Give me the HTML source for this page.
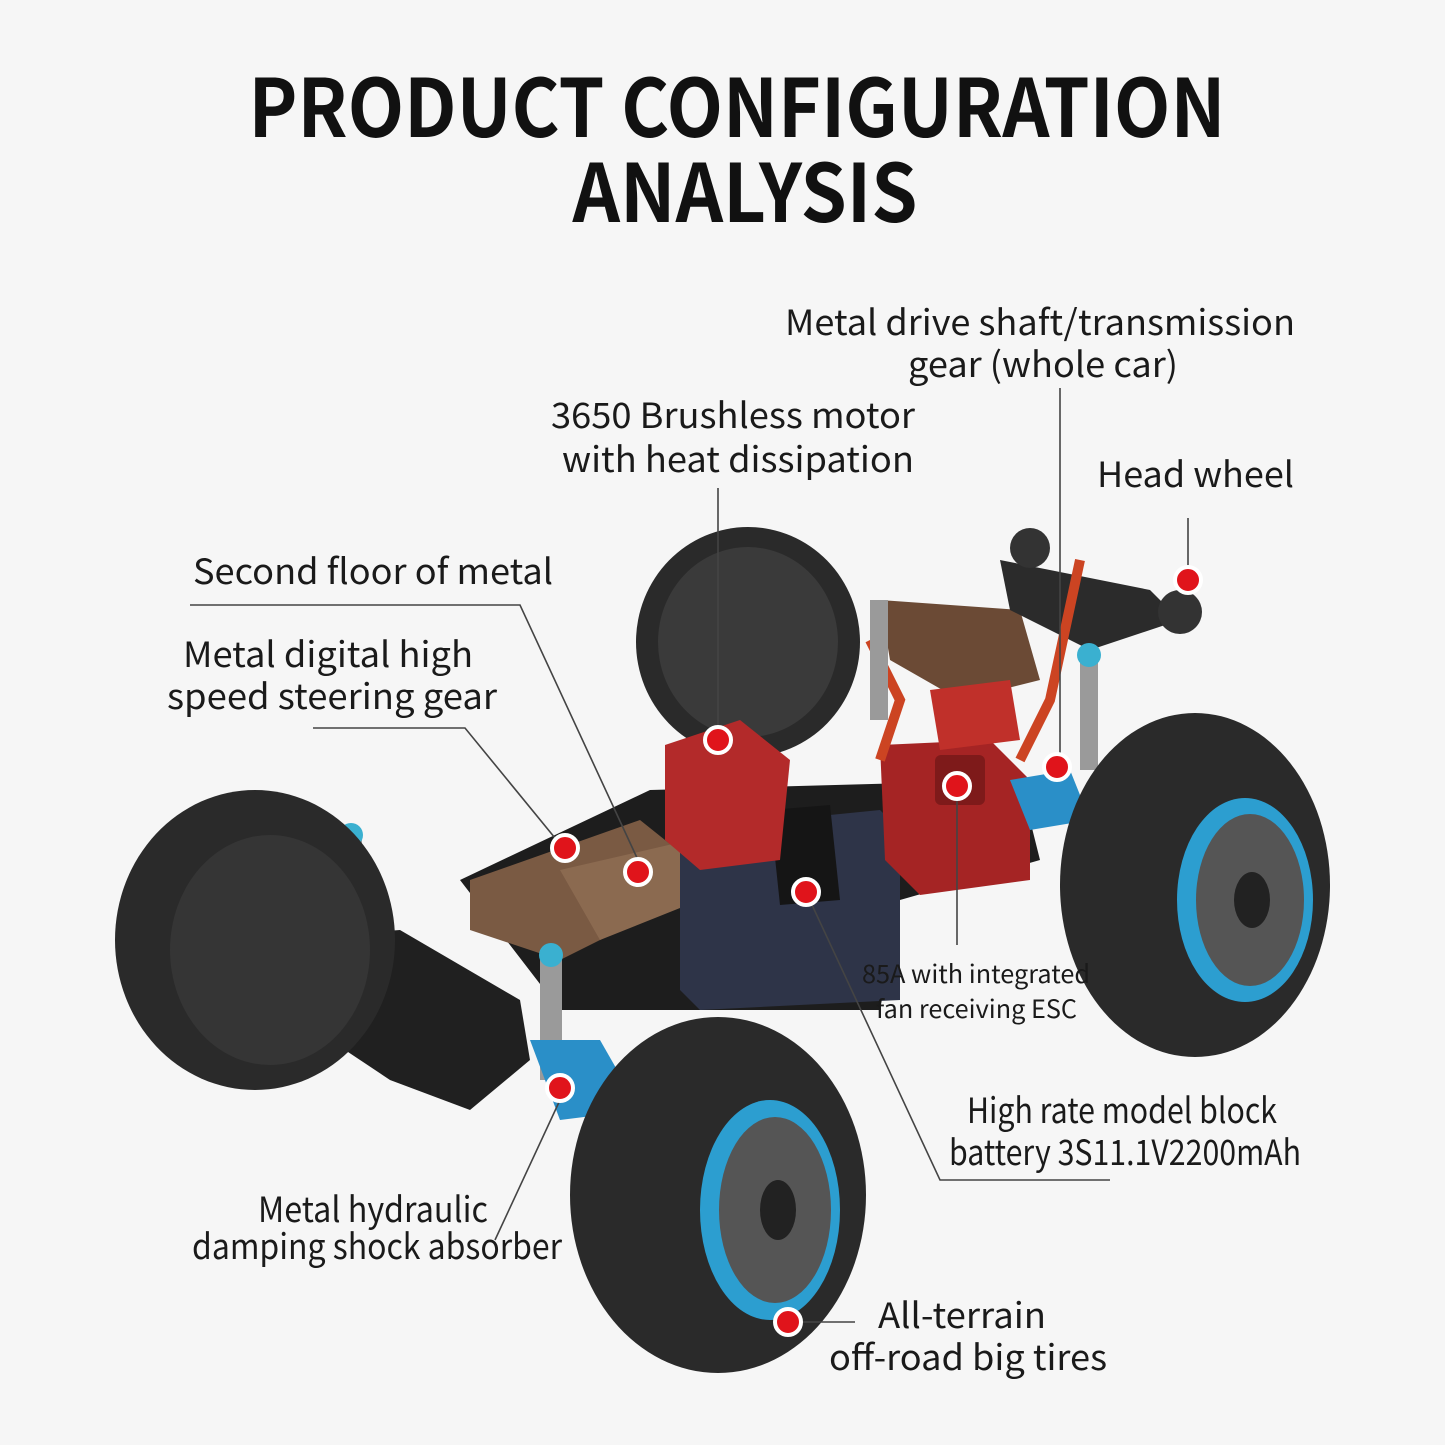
<!DOCTYPE html>
<html><head><meta charset="utf-8"><style>
html,body{margin:0;padding:0;background:#f6f6f6}
svg{display:block}
text{font-family:"Noto Sans CJK SC","Liberation Sans",sans-serif;fill:#1a1a1a}
</style></head><body>
<svg width="1445" height="1445" viewBox="0 0 1445 1445" xmlns="http://www.w3.org/2000/svg">
<rect width="1445" height="1445" fill="#f6f6f6"/>
<text x="737" y="137" text-anchor="middle" font-size="80" font-weight="bold" textLength="977" lengthAdjust="spacingAndGlyphs" style="fill:#111">PRODUCT CONFIGURATION</text>
<text x="745" y="222" text-anchor="middle" font-size="80" font-weight="bold" textLength="345" lengthAdjust="spacingAndGlyphs" style="fill:#111">ANALYSIS</text>

<!-- car -->
<g>
 <!-- rear left tire -->
 <ellipse cx="748" cy="642" rx="112" ry="115" fill="#2a2a2a"/>
 <ellipse cx="748" cy="642" rx="90" ry="95" fill="#3a3a3a"/>
 <!-- chassis back / bronze -->
 <polygon points="880,600 1020,610 1040,680 960,700 890,660" fill="#6b4a35"/>
 <polygon points="1000,560 1150,590 1180,620 1090,650 1010,610" fill="#2b2b2b"/>
 <circle cx="1180" cy="612" r="22" fill="#333"/>
 <circle cx="1030" cy="548" r="20" fill="#333"/>
 <!-- main chassis tub -->
 <polygon points="460,880 650,790 1020,780 1040,860 900,900 880,1010 700,1010 560,1010" fill="#1d1d1d"/>
 <!-- bronze plate front -->
 <polygon points="470,880 640,820 690,860 640,920 560,960 470,930" fill="#7a5a43"/>
 <polygon points="560,870 690,840 700,900 600,940" fill="#8b6a50"/>
 <!-- battery -->
 <polygon points="680,830 880,810 900,830 900,1000 700,1010 680,990" fill="#2e3448"/>
 <polygon points="770,810 830,805 840,900 780,905" fill="#151515"/>
 <!-- motor -->
 <polygon points="665,745 740,720 790,760 780,860 700,870 665,840" fill="#b32a2a"/>
 <!-- ESC -->
 <polygon points="880,745 990,740 1030,780 1030,880 920,895 885,860" fill="#a52424"/>
 <rect x="935" y="755" width="50" height="50" rx="6" fill="#7e1a1a"/>
 <polygon points="930,690 1010,680 1020,740 940,750" fill="#c0302a"/>
 <!-- wires -->
 <path d="M870 640 L900 700 L880 760" stroke="#c42" stroke-width="10" fill="none"/>
 <path d="M1080 560 L1050 700 L1020 760" stroke="#c42" stroke-width="10" fill="none"/>
 <!-- shocks -->
 <rect x="870" y="600" width="18" height="120" fill="#9a9a9a"/>
 <rect x="1080" y="650" width="18" height="120" fill="#9a9a9a"/>
 <rect x="340" y="830" width="22" height="130" fill="#9a9a9a"/>
 <rect x="540" y="950" width="22" height="130" fill="#9a9a9a"/>
 <circle cx="351" cy="835" r="12" fill="#3ab0d0"/>
 <circle cx="551" cy="955" r="12" fill="#3ab0d0"/>
 <circle cx="1089" cy="655" r="12" fill="#3ab0d0"/>
 <!-- blue arms -->
 <polygon points="530,1040 600,1040 640,1110 560,1120" fill="#2a8fc8"/>
 <polygon points="1010,780 1070,770 1090,820 1030,830" fill="#2a8fc8"/>
 <!-- front bumper -->
 <polygon points="260,940 400,930 520,1000 530,1060 470,1110 390,1080 270,1000" fill="#202020"/>
 <!-- front left tire -->
 <ellipse cx="255" cy="940" rx="140" ry="150" fill="#2a2a2a"/>
 <ellipse cx="270" cy="950" rx="100" ry="115" fill="#353535"/>
 <!-- rear right tire -->
 <ellipse cx="1195" cy="885" rx="135" ry="172" fill="#2a2a2a"/>
 <ellipse cx="1245" cy="900" rx="68" ry="102" fill="#2c9ed0"/>
 <ellipse cx="1250" cy="900" rx="54" ry="86" fill="#555"/>
 <ellipse cx="1252" cy="900" rx="18" ry="28" fill="#222"/>
 <!-- front right tire -->
 <ellipse cx="718" cy="1195" rx="148" ry="178" fill="#2a2a2a"/>
 <ellipse cx="770" cy="1210" rx="70" ry="110" fill="#2c9ed0"/>
 <ellipse cx="775" cy="1210" rx="56" ry="93" fill="#555"/>
 <ellipse cx="778" cy="1210" rx="18" ry="30" fill="#222"/>
</g>

<!-- leader lines -->
<g stroke="#444" stroke-width="1.6" fill="none">
 <path d="M1188 518 V568"/>
 <path d="M1060 388 V755"/>
 <path d="M718 488 V728"/>
 <path d="M190 605 H520 L638 860"/>
 <path d="M313 728 H465 L555 838"/>
 <path d="M957 798 V945"/>
 <path d="M806 892 L940 1180 H1110"/>
 <path d="M560 1100 L495 1240"/>
 <path d="M800 1322 H855"/>
</g>
<!-- dots -->
<g fill="#e0141b" stroke="#fff" stroke-width="4">
 <circle cx="1188" cy="580" r="13"/>
 <circle cx="1057" cy="767" r="13"/>
 <circle cx="718" cy="740" r="13"/>
 <circle cx="638" cy="872" r="13"/>
 <circle cx="565" cy="848" r="13"/>
 <circle cx="957" cy="786" r="13"/>
 <circle cx="806" cy="892" r="13"/>
 <circle cx="560" cy="1088" r="13"/>
 <circle cx="788" cy="1322" r="13"/>
</g>

<!-- labels -->
<g font-size="35">
 <text x="785" y="335" textLength="510" lengthAdjust="spacingAndGlyphs">Metal drive shaft/transmission</text>
 <text x="908" y="377" textLength="270" lengthAdjust="spacingAndGlyphs">gear (whole car)</text>
 <text x="551" y="428" textLength="364" lengthAdjust="spacingAndGlyphs">3650 Brushless motor</text>
 <text x="562" y="472" textLength="352" lengthAdjust="spacingAndGlyphs">with heat dissipation</text>
 <text x="1097" y="487" textLength="197" lengthAdjust="spacingAndGlyphs">Head wheel</text>
 <text x="193" y="584" textLength="360" lengthAdjust="spacingAndGlyphs">Second floor of metal</text>
 <text x="183" y="667" textLength="290" lengthAdjust="spacingAndGlyphs">Metal digital high</text>
 <text x="167" y="709" textLength="330" lengthAdjust="spacingAndGlyphs">speed steering gear</text>
 <text x="967" y="1123" textLength="310" lengthAdjust="spacingAndGlyphs">High rate model block</text>
 <text x="949" y="1165" textLength="352" lengthAdjust="spacingAndGlyphs">battery 3S11.1V2200mAh</text>
 <text x="258" y="1222" textLength="230" lengthAdjust="spacingAndGlyphs">Metal hydraulic</text>
 <text x="192" y="1259" textLength="370" lengthAdjust="spacingAndGlyphs">damping shock absorber</text>
 <text x="878" y="1328" textLength="168" lengthAdjust="spacingAndGlyphs">All-terrain</text>
 <text x="829" y="1370" textLength="278" lengthAdjust="spacingAndGlyphs">off-road big tires</text>
</g>
<g font-size="25">
 <text x="862" y="983" textLength="228" lengthAdjust="spacingAndGlyphs">85A with integrated</text>
 <text x="876" y="1018" textLength="201" lengthAdjust="spacingAndGlyphs">fan receiving ESC</text>
</g>
</svg>
</body></html>
